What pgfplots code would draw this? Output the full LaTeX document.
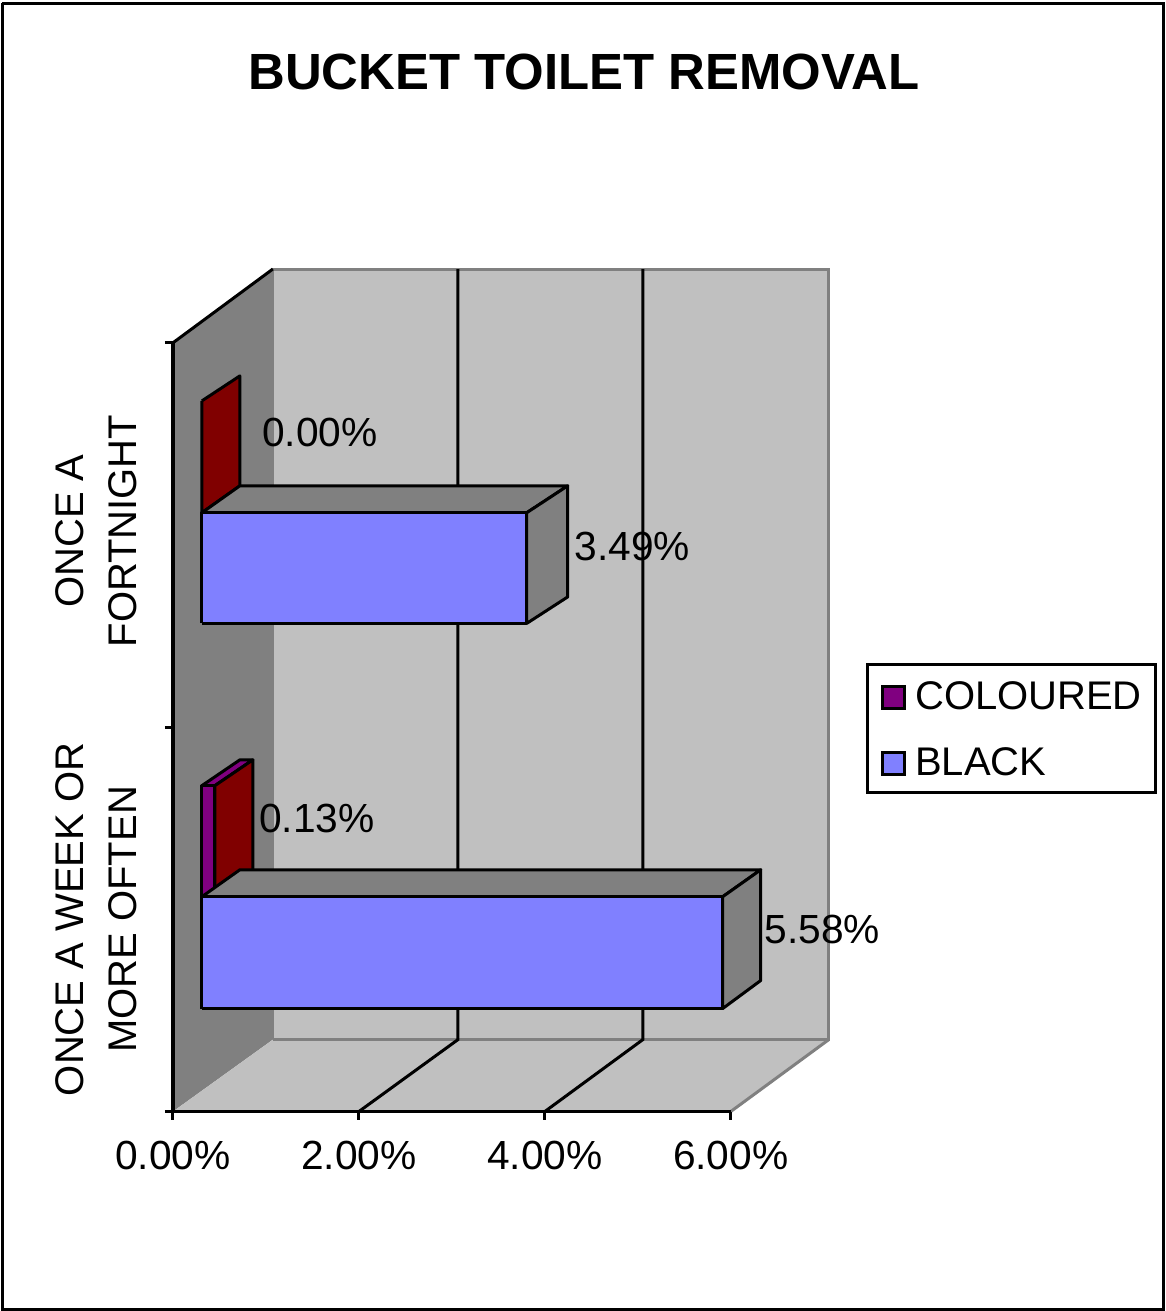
\documentclass[border=0pt]{standalone}
\usepackage{fontspec}
\setmainfont{Liberation Sans}
\usepackage{pgfplots}
\pgfplotsset{compat=1.18}

\definecolor{wallgray}{HTML}{808080}
\definecolor{panelgray}{HTML}{C0C0C0}
\definecolor{colouredbar}{HTML}{800080}
\definecolor{colouredside}{HTML}{800000}
\definecolor{blackbar}{HTML}{8080FF}

\pgfplotsset{
  face/.style={draw=black, line width=3pt, line join=round, forget plot},
  wall/.style={draw=none, forget plot},
}
\tikzset{val/.style={font=\fontsize{40.7}{48}\selectfont, inner sep=0pt}}

\begin{document}
\begin{tikzpicture}
  % 1 unit in x = 93pt, 1 category in y = 384.5pt
  \begin{axis}[
      scale only axis,
      width=558pt, height=769pt,
      xmin=0, xmax=6, ymin=0, ymax=2,
      clip=false,
      axis on top,
      axis x line*=bottom,
      axis y line*=left,
      axis line style={black, line width=3.5pt},
      tick style={black, line width=3pt},
      tick align=outside,
      major tick length=8pt,
      xtick={0,2,4,6},
      ytick={0,1,2},
      yticklabels={},
      xticklabel={\pgfmathprintnumber[fixed, fixed zerofill, precision=2]{\tick}\%},
      /pgf/number format/assume math mode=true,
      xticklabel style={font=\fontsize{40.7}{48}\selectfont, yshift=-18pt},
      extra y ticks={0.5,1.51},
      extra y tick labels={{ONCE A WEEK OR\\MORE OFTEN},{ONCE A\\FORTNIGHT}},
      extra y tick style={
        major tick length=0pt,
        yticklabel style={font=\fontsize{40}{53}\selectfont, rotate=90, anchor=south, align=center, inner sep=0pt, yshift=36pt},
      },
      title={BUCKET TOILET REMOVAL},
      title style={at={(axis cs:4.419,2.690)}, anchor=center, font=\fontsize{50.9}{60}\selectfont\bfseries, inner sep=0pt},
      legend style={
        at={(axis cs:7.452,1.168)}, anchor=north west,
        draw=black, line width=3pt, fill=white,
        font=\fontsize{40}{48}\selectfont,
        inner xsep=14pt, inner ysep=16.5pt,
        nodes={inner sep=0pt, text height=29pt, text depth=0pt},
        /tikz/every odd column/.append style={column sep=9pt},
        row sep=37pt,
      },
      legend cell align=left,
      legend image code/.code={\draw[#1, line width=3pt] (0pt,-13pt) rectangle (22pt,9pt);},
    ]

    % page corners and outer frame
    \addplot[draw=none, forget plot] coordinates {(-1.860,2.892) (10.677,-0.518)};
    \addplot[draw=black, line width=3pt, forget plot] coordinates {(-1.838,2.884) (10.656,2.884) (10.656,-0.515) (-1.838,-0.515) (-1.838,2.884)};

    % walls and floor
    \addplot[wall, fill=wallgray] coordinates {(0,2.000) (1.075,2.192) (1.075,0.187) (0,0) (0,2.000)};
    \addplot[draw=wallgray, line width=3pt, fill=panelgray, forget plot] coordinates {(1.075,0.187) (1.075,2.192) (7.054,2.192) (7.054,0.187) (1.075,0.187)};
    \addplot[wall, fill=panelgray] coordinates {(0,0) (1.075,0.187) (7.054,0.187) (6,0) (0,0)};
    \addplot[draw=wallgray, line width=3pt, forget plot] coordinates {(6,0) (7.054,0.187)};
    \addplot[draw=wallgray, line width=3pt, forget plot] coordinates {(1.075,0.187) (7.054,0.187)};
    \addplot[draw=black, line width=3pt, forget plot] coordinates {(0,2.000) (1.075,2.192)};

    % gridlines, back wall then floor
    \addplot[draw=black, line width=3pt, forget plot] coordinates {(3.065,2.192) (3.065,0.187) (2,0)};
    \addplot[draw=black, line width=3pt, forget plot] coordinates {(5.054,2.192) (5.054,0.187) (4,0)};

    % ONCE A FORTNIGHT, coloured 0.00%
    \addplot[face, fill=colouredside] coordinates {(0.312,1.849) (0.720,1.914) (0.720,1.628) (0.312,1.558) (0.312,1.849)};

    % ONCE A FORTNIGHT, black 3.49%
    \addplot[face, fill=wallgray] coordinates {(0.312,1.558) (0.720,1.628) (4.247,1.628) (3.806,1.558) (0.312,1.558)};
    \addplot[face, fill=wallgray] coordinates {(3.806,1.558) (4.247,1.628) (4.247,1.339) (3.806,1.270) (3.806,1.558)};
    \addplot[face, fill=blackbar] coordinates {(0.312,1.270) (3.806,1.270) (3.806,1.558) (0.312,1.558) (0.312,1.270)};

    % ONCE A WEEK OR MORE OFTEN, coloured 0.13%
    \addplot[face, fill=colouredbar] coordinates {(0.312,0.848) (0.452,0.848) (0.860,0.915) (0.720,0.915) (0.312,0.848)};
    \addplot[face, fill=colouredside] coordinates {(0.452,0.848) (0.860,0.915) (0.860,0.629) (0.452,0.559) (0.452,0.848)};
    \addplot[face, fill=colouredbar] coordinates {(0.312,0.559) (0.452,0.559) (0.452,0.848) (0.312,0.848) (0.312,0.559)};

    % ONCE A WEEK OR MORE OFTEN, black 5.58%
    \addplot[face, fill=wallgray] coordinates {(0.312,0.559) (0.720,0.629) (6.323,0.629) (5.914,0.559) (0.312,0.559)};
    \addplot[face, fill=wallgray] coordinates {(5.914,0.559) (6.323,0.629) (6.323,0.341) (5.914,0.268) (5.914,0.559)};
    \addplot[face, fill=blackbar] coordinates {(0.312,0.268) (5.914,0.268) (5.914,0.559) (0.312,0.559) (0.312,0.268)};

    % value labels
    \node[val] at (axis cs:1.582,1.768) {0.00\%};
    \node[val] at (axis cs:4.940,1.469) {3.49\%};
    \node[val] at (axis cs:1.548,0.762) {0.13\%};
    \node[val] at (axis cs:6.984,0.473) {5.58\%};

    \addlegendimage{fill=colouredbar, draw=black}
    \addlegendentry{COLOURED}
    \addlegendimage{fill=blackbar, draw=black}
    \addlegendentry{BLACK}
  \end{axis}
\end{tikzpicture}
\end{document}
